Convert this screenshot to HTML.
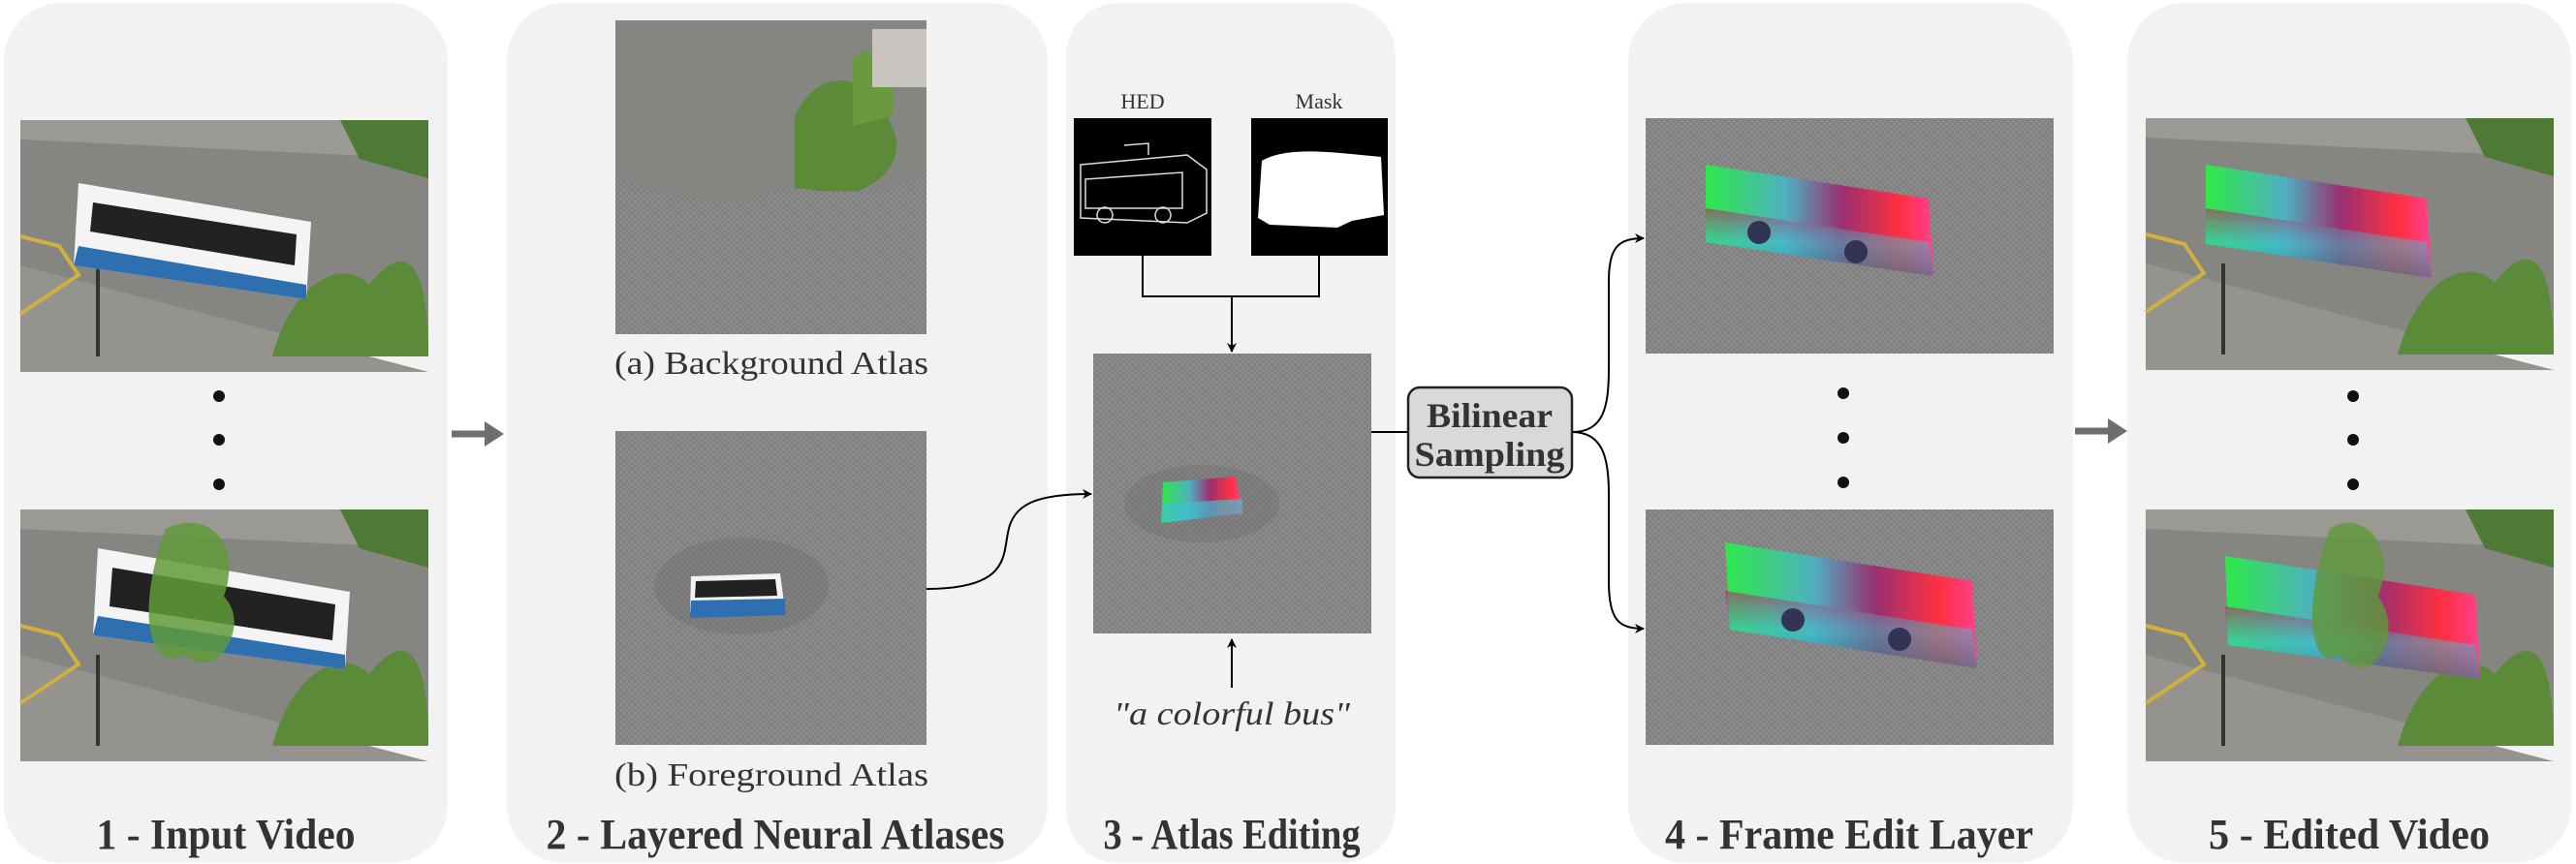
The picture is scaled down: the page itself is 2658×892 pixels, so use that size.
<!DOCTYPE html>
<html><head><meta charset="utf-8"><style>
html,body{margin:0;padding:0;background:#fff;}
svg{display:block;}
text{font-family:"Liberation Serif",serif;fill:#333;}
</style></head><body>
<svg width="2658" height="892" viewBox="0 0 2658 892" xmlns="http://www.w3.org/2000/svg">
<defs>
<pattern id="chk" width="6" height="6" patternUnits="userSpaceOnUse">
<rect width="6" height="6" fill="#8c8c8c"/><rect width="3" height="3" fill="#7f7f7f"/><rect x="3" y="3" width="3" height="3" fill="#7f7f7f"/>
</pattern>
<linearGradient id="rb" x1="0" y1="0" x2="1" y2="0">
<stop offset="0" stop-color="#2ee84a"/><stop offset="0.35" stop-color="#4fb0c0"/><stop offset="0.6" stop-color="#9a3070"/><stop offset="0.85" stop-color="#ff3040"/><stop offset="1" stop-color="#ff4090"/>
</linearGradient>
<linearGradient id="rbl" x1="0" y1="0" x2="0" y2="1">
<stop offset="0" stop-color="#c02060" stop-opacity="0.6"/><stop offset="0.5" stop-color="#40c0d0" stop-opacity="0.5"/><stop offset="1" stop-color="#208090" stop-opacity="0.6"/>
</linearGradient>
<marker id="ah" markerWidth="10" markerHeight="10" refX="9" refY="5" orient="auto" markerUnits="userSpaceOnUse">
<path d="M0,0 L10,5 L0,10 L3,5 Z" fill="#000"/></marker>
<g id="street">
<rect width="421" height="244" fill="#858581"/>
<polygon points="0,0 421,0 421,40 0,20" fill="#9a9994"/>
<polygon points="0,150 421,260 0,260" fill="#94938e"/>
<path d="M330,0 L421,0 L421,60 L350,40Z" fill="#4f7a35"/>
<path d="M260,244 C280,170 330,140 360,170 C400,120 421,150 421,244Z" fill="#5b8a38"/>
<path d="M0,120 L40,130 L60,160 L0,200" fill="none" stroke="#d0b040" stroke-width="4"/>
<line x1="80" y1="150" x2="80" y2="244" stroke="#333" stroke-width="4"/>
</g>
</defs>

<!-- panels -->
<rect x="4" y="3" width="458" height="888" rx="60" fill="#f2f2f2"/>
<rect x="523" y="3" width="558" height="888" rx="60" fill="#f2f2f2"/>
<rect x="1100" y="3" width="340" height="888" rx="55" fill="#f2f2f2"/>
<rect x="1680" y="3" width="459" height="888" rx="60" fill="#f2f2f2"/>
<rect x="2195" y="3" width="458" height="888" rx="60" fill="#f2f2f2"/>

<!-- panel 1 -->
<g transform="translate(21,124)"><use href="#street"/>
<polygon points="60,65 300,105 295,185 55,150" fill="#f4f4f4"/>
<polygon points="60,130 295,170 295,185 55,150" fill="#2e6fb0"/>
<polygon points="75,85 285,118 283,150 72,115" fill="#222"/></g>
<g transform="translate(21,526)"><use href="#street"/>
<polygon points="80,40 340,85 335,165 75,130" fill="#f4f4f4"/>
<polygon points="80,110 335,150 335,165 75,130" fill="#2e6fb0"/>
<polygon points="95,60 325,98 322,135 92,100" fill="#222"/>
<path d="M150,20 C190,0 230,30 210,90 C240,120 200,180 170,150 C130,170 120,100 150,20Z" fill="#5f9a3a" opacity="0.85"/></g>
<circle cx="226" cy="409" r="6" fill="#111"/><circle cx="226" cy="454" r="6" fill="#111"/><circle cx="226" cy="500" r="6" fill="#111"/>
<text x="233" y="876" font-size="44" font-weight="bold" text-anchor="middle" textLength="267" lengthAdjust="spacingAndGlyphs">1 - Input Video</text>

<!-- arrow 1 -->
<line x1="466" y1="448" x2="505" y2="448" stroke="#6e6e6e" stroke-width="7"/>
<polygon points="500,435 520,448 500,461" fill="#6e6e6e"/>

<!-- panel 2 -->
<rect x="635" y="21" width="321" height="324" fill="url(#chk)"/>
<clipPath id="bgc"><path d="M635,21 L956,21 L956,175 C930,200 860,200 830,195 C790,190 780,215 720,205 C680,200 650,190 635,180Z"/></clipPath>
<g clip-path="url(#bgc)"><rect x="635" y="21" width="321" height="200" fill="#858581"/>
<path d="M820,120 C850,60 900,80 920,130 C940,170 900,210 820,205Z" fill="#5b8a38"/>
<path d="M880,60 C900,40 930,60 920,120 L880,130Z" fill="#6a9a40"/>
<rect x="900" y="30" width="56" height="60" fill="#c8c4c0"/></g>
<text x="796" y="386" font-size="34" text-anchor="middle" textLength="324" lengthAdjust="spacingAndGlyphs">(a) Background Atlas</text>
<rect x="635" y="445" width="321" height="324" fill="url(#chk)"/>
<ellipse cx="765" cy="605" rx="90" ry="50" fill="#6a6a6a" opacity="0.35"/>
<polygon points="713,595 805,592 810,630 712,632" fill="#f2f2f2"/>
<polygon points="713,620 810,618 810,635 712,638" fill="#2e6fb0"/>
<polygon points="718,600 800,598 802,615 717,617" fill="#222"/>
<text x="796" y="811" font-size="34" text-anchor="middle" textLength="324" lengthAdjust="spacingAndGlyphs">(b) Foreground Atlas</text>
<text x="800" y="876" font-size="44" font-weight="bold" text-anchor="middle" textLength="473" lengthAdjust="spacingAndGlyphs">2 - Layered Neural Atlases</text>

<!-- connector FG -> edit -->
<path d="M956,608 C1040,608 1035,575 1040,550 C1045,520 1070,510 1126,510" fill="none" stroke="#000" stroke-width="2" marker-end="url(#ah)"/>

<!-- panel 3 -->
<text x="1179" y="112" font-size="22" text-anchor="middle">HED</text>
<text x="1361" y="112" font-size="22" text-anchor="middle">Mask</text>
<rect x="1108" y="122" width="142" height="142" fill="#000"/>
<g fill="none" stroke="#ddd" stroke-width="1.5"><path d="M1115,170 L1225,160 L1245,175 L1245,220 L1225,230 L1115,225Z"/><path d="M1120,185 L1220,178 L1220,215 L1120,215Z"/><circle cx="1140" cy="222" r="8"/><circle cx="1200" cy="222" r="8"/><path d="M1160,150 L1185,148 L1185,160"/></g>
<rect x="1291" y="122" width="141" height="142" fill="#000"/>
<path d="M1302,166 C1330,150 1380,158 1425,162 L1428,222 L1395,228 L1380,235 L1310,232 L1298,225 Z" fill="#fff"/>
<polyline points="1179,264 1179,306 1361,306 1361,264" fill="none" stroke="#000" stroke-width="2"/>
<line x1="1271" y1="306" x2="1271" y2="363" stroke="#000" stroke-width="2" marker-end="url(#ah)"/>
<rect x="1128" y="365" width="287" height="289" fill="url(#chk)"/>
<ellipse cx="1240" cy="520" rx="80" ry="40" fill="#6a6a6a" opacity="0.3"/>
<polygon points="1200,498 1275,492 1282,530 1198,540" fill="url(#rb)"/>
<polygon points="1200,520 1282,515 1282,530 1198,540" fill="#40c0d0" opacity="0.7"/>
<line x1="1271" y1="710" x2="1271" y2="660" stroke="#000" stroke-width="2" marker-end="url(#ah)"/>
<text x="1271" y="748" font-size="34" font-style="italic" text-anchor="middle" textLength="244" lengthAdjust="spacingAndGlyphs">"a colorful bus"</text>
<text x="1271" y="876" font-size="44" font-weight="bold" text-anchor="middle" textLength="265" lengthAdjust="spacingAndGlyphs">3 - Atlas Editing</text>

<!-- bilinear -->
<line x1="1415" y1="446" x2="1453" y2="446" stroke="#000" stroke-width="2"/>
<rect x="1453" y="400" width="169" height="93" rx="12" fill="#d9d9d9" stroke="#222" stroke-width="2.5"/>
<text x="1537" y="441" font-size="36" font-weight="bold" text-anchor="middle" textLength="130" lengthAdjust="spacingAndGlyphs">Bilinear</text>
<text x="1537" y="481" font-size="36" font-weight="bold" text-anchor="middle" textLength="155" lengthAdjust="spacingAndGlyphs">Sampling</text>
<path d="M1622,446 C1655,446 1660,420 1660,380 L1660,290 C1660,255 1670,246 1696,246" fill="none" stroke="#000" stroke-width="2" marker-end="url(#ah)"/>
<path d="M1622,446 C1655,446 1660,475 1660,510 L1660,600 C1660,640 1670,649 1696,649" fill="none" stroke="#000" stroke-width="2" marker-end="url(#ah)"/>

<!-- panel 4 -->
<rect x="1698" y="122" width="421" height="243" fill="url(#chk)"/>
<polygon points="1760,170 1990,205 1995,285 1760,250" fill="url(#rb)"/>
<polygon points="1760,215 1990,250 1995,285 1760,250" fill="url(#rbl)"/>
<circle cx="1815" cy="240" r="12" fill="#335" /><circle cx="1915" cy="260" r="12" fill="#335"/>
<rect x="1698" y="526" width="421" height="243" fill="url(#chk)"/>
<polygon points="1780,560 2035,600 2040,690 1785,650" fill="url(#rb)"/>
<polygon points="1780,610 2035,650 2040,690 1785,650" fill="url(#rbl)"/>
<circle cx="1850" cy="640" r="12" fill="#335"/><circle cx="1960" cy="660" r="12" fill="#335"/>
<circle cx="1902" cy="406" r="6" fill="#111"/><circle cx="1902" cy="452" r="6" fill="#111"/><circle cx="1902" cy="498" r="6" fill="#111"/>
<text x="1908" y="876" font-size="44" font-weight="bold" text-anchor="middle" textLength="380" lengthAdjust="spacingAndGlyphs">4 - Frame Edit Layer</text>

<!-- arrow 2 -->
<line x1="2141" y1="445" x2="2180" y2="445" stroke="#6e6e6e" stroke-width="7"/>
<polygon points="2175,432 2195,445 2175,458" fill="#6e6e6e"/>

<!-- panel 5 -->
<g transform="translate(2214,122)"><use href="#street"/>
<polygon points="62,48 290,83 295,165 62,130" fill="url(#rb)"/>
<polygon points="62,93 290,128 295,165 62,130" fill="url(#rbl)"/></g>
<g transform="translate(2214,526)"><use href="#street"/>
<polygon points="82,48 340,88 345,175 85,140" fill="url(#rb)"/>
<polygon points="82,100 340,140 345,175 85,140" fill="url(#rbl)"/>
<path d="M190,20 C220,0 260,30 240,90 C270,130 230,190 200,150 C170,170 160,100 190,20Z" fill="#5f9a3a" opacity="0.8"/></g>
<circle cx="2428" cy="409" r="6" fill="#111"/><circle cx="2428" cy="454" r="6" fill="#111"/><circle cx="2428" cy="500" r="6" fill="#111"/>
<text x="2424" y="876" font-size="44" font-weight="bold" text-anchor="middle" textLength="290" lengthAdjust="spacingAndGlyphs">5 - Edited Video</text>
</svg>
</body></html>
